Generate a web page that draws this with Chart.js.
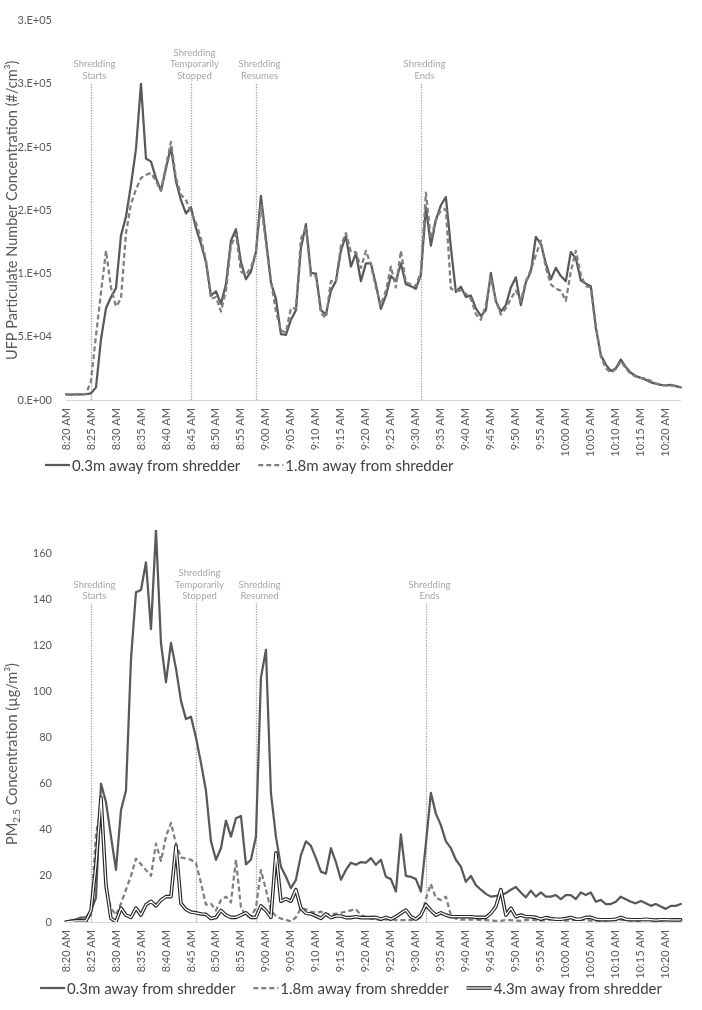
<!DOCTYPE html>
<html>
<head>
<meta charset="utf-8">
<script src="https://cdn.jsdelivr.net/npm/chart.js@4.4.1/dist/chart.umd.min.js"></script>
<style>
  html, body { margin: 0; padding: 0; background: #fff; }
  canvas { display: block; }
</style>
</head>
<body>
<canvas id="ufp" width="702" height="490"></canvas>
<canvas id="pm" width="702" height="520"></canvas>
<script>
// one reading per minute, 8:20 to 10:23
const minutes = [
  '8:20 AM','8:21 AM','8:22 AM','8:23 AM','8:24 AM','8:25 AM','8:26 AM','8:27 AM','8:28 AM','8:29 AM',
  '8:30 AM','8:31 AM','8:32 AM','8:33 AM','8:34 AM','8:35 AM','8:36 AM','8:37 AM','8:38 AM','8:39 AM',
  '8:40 AM','8:41 AM','8:42 AM','8:43 AM','8:44 AM','8:45 AM','8:46 AM','8:47 AM','8:48 AM','8:49 AM',
  '8:50 AM','8:51 AM','8:52 AM','8:53 AM','8:54 AM','8:55 AM','8:56 AM','8:57 AM','8:58 AM','8:59 AM',
  '9:00 AM','9:01 AM','9:02 AM','9:03 AM','9:04 AM','9:05 AM','9:06 AM','9:07 AM','9:08 AM','9:09 AM',
  '9:10 AM','9:11 AM','9:12 AM','9:13 AM','9:14 AM','9:15 AM','9:16 AM','9:17 AM','9:18 AM','9:19 AM',
  '9:20 AM','9:21 AM','9:22 AM','9:23 AM','9:24 AM','9:25 AM','9:26 AM','9:27 AM','9:28 AM','9:29 AM',
  '9:30 AM','9:31 AM','9:32 AM','9:33 AM','9:34 AM','9:35 AM','9:36 AM','9:37 AM','9:38 AM','9:39 AM',
  '9:40 AM','9:41 AM','9:42 AM','9:43 AM','9:44 AM','9:45 AM','9:46 AM','9:47 AM','9:48 AM','9:49 AM',
  '9:50 AM','9:51 AM','9:52 AM','9:53 AM','9:54 AM','9:55 AM','9:56 AM','9:57 AM','9:58 AM','9:59 AM',
  '10:00 AM','10:01 AM','10:02 AM','10:03 AM','10:04 AM','10:05 AM','10:06 AM','10:07 AM','10:08 AM','10:09 AM',
  '10:10 AM','10:11 AM','10:12 AM','10:13 AM','10:14 AM','10:15 AM','10:16 AM','10:17 AM','10:18 AM','10:19 AM',
  '10:20 AM','10:21 AM','10:22 AM','10:23 AM'
];

// UFP, #/cm3
const ufpNear = [
  4500, 4300, 4400, 4500, 4600, 5300, 10000, 48000, 72500, 81500,
  88500, 130000, 145000, 170000, 198500, 250000, 191000, 188500, 175500, 165500,
  183000, 200000, 173000, 158000, 147500, 152500, 136000, 123500, 109000, 82500,
  86000, 76000, 91500, 126000, 135000, 109000, 95500, 101500, 117000, 161500,
  127500, 93000, 80000, 52000, 51500, 63500, 71000, 120000, 139000, 100500,
  100000, 71000, 67500, 86500, 94000, 118000, 130000, 105500, 116000, 94000,
  108000, 108000, 91500, 72000, 82500, 98000, 94000, 108000, 91500, 90000,
  88000, 99000, 152500, 122000, 142500, 154000, 160500, 120500, 85500, 89500,
  81500, 82500, 72500, 66500, 71000, 100500, 78000, 70000, 75000, 89000,
  97000, 75000, 93000, 101500, 129000, 123500, 108000, 95500, 104500, 98000,
  94000, 117000, 112000, 94500, 92000, 90000, 57000, 35500, 28000, 23000,
  25000, 32000, 26000, 21500, 19000, 17500, 16000, 14000, 13000, 12000,
  11500, 12000, 11000, 10000
];
const ufpFar = [
  4500, 4300, 4400, 4500, 4600, 15000, 51000, 85000, 118000, 89000,
  74000, 80000, 132000, 155000, 166500, 175500, 178000, 179500, 173000, 165500,
  185500, 204000, 175500, 162500, 158000, 149000, 140000, 127500, 110500, 80000,
  81500, 70000, 86500, 122000, 131000, 101500, 99000, 104500, 117000, 155000,
  124500, 94000, 70000, 55000, 53500, 72500, 72500, 127500, 136000, 98000,
  98000, 68500, 65000, 94000, 94000, 122000, 132000, 117000, 117000, 104500,
  118000, 107000, 89000, 75000, 86500, 105500, 89000, 118000, 93000, 91500,
  90000, 101500, 164000, 127500, 142500, 150000, 151000, 88000, 86500, 86500,
  84000, 80000, 68000, 63500, 75000, 97000, 78500, 67500, 72500, 80000,
  86500, 78000, 94000, 103000, 114500, 126000, 104500, 91500, 88000, 86500,
  78500, 101500, 118000, 99000, 90000, 89000, 59500, 34500, 25000, 21500,
  24500, 30500, 25000, 20500, 18500, 17500, 17000, 15000, 13000, 12000,
  11500, 11500, 11000, 10000
];

// PM2.5, ug/m3
const pmNear = [
  0, 0.6, 1.2, 1.9, 2, 5, 10.5, 60, 52, 37,
  22.6, 48.5, 57, 114, 143, 144, 156, 127, 170, 121,
  104, 121, 110, 96, 88, 89, 80, 69, 57, 35,
  27, 32, 44, 37, 45, 46, 25, 27, 37, 106,
  118, 56, 37, 24, 19.6, 14.7, 18.3, 29, 35, 33,
  27.7, 21.8, 21, 32, 26, 18.3, 22.6, 25.7, 24.8, 26,
  25.7, 27.7, 24.8, 27, 19.6, 18.6, 13.2, 38, 20, 19.6,
  18.6, 13.2, 34, 56, 47, 42, 35, 32, 27, 24,
  17.4, 20, 16, 14, 12.2, 11, 11.3, 11.7, 12.5, 14,
  15.2, 12.8, 10.7, 13.6, 11, 12.8, 11, 11, 11.7, 9.9,
  11.7, 11.7, 9.9, 12.8, 11.7, 12.8, 8.8, 9.6, 7.8, 7.8,
  8.8, 11, 9.9, 8.8, 8.1, 9.1, 8.1, 7, 7.8, 6.7,
  5.7, 7, 7, 7.8
];
const pmFar = [
  0, 0.5, 0.7, 0.5, 0.8, 3, 38, 50, 14, 6,
  3, 8, 14, 20, 27.5, 25, 22.5, 20, 34, 26.5,
  37, 43, 34, 28, 27.5, 27, 25.5, 17, 7.5, 8,
  5, 9.5, 11, 8.5, 27, 6.5, 2.5, 2.5, 6, 22.5,
  14, 5, 2.5, 1.5, 1, 0.2, 2, 6, 5.5, 4.5,
  4, 4.5, 3, 3.5, 3.5, 4, 4.5, 5, 5.5, 3,
  2, 1.5, 1, 1, 1, 1.5, 0.8, 0.8, 0.8, 0.8,
  1, 2, 10, 16.5, 10.5, 9.5, 11, 3, 1.5, 1,
  1, 1, 1, 0.8, 0.8, 0.6, 0.5, 0.5, 0.8, 0.8,
  0.6, 0.5, 0.8, 1, 0.8, 0.6, 0.8, 1, 1.2, 0.8,
  0.6, 0.8, 1, 1.2, 0.8, 0.6, 0.5, 0.5, 0.6, 0.8,
  0.8, 1, 0.8, 0.6, 0.5, 0.6, 0.8, 0.8, 0.6, 0.5,
  0.8, 1, 1, 0.8
];
const pmMid = [
  0, 0.3, 0.5, 0.5, 0.5, 5, 25, 54, 16, 1.5,
  0.2, 6, 3, 2, 6, 3, 7.5, 9, 7, 9.5,
  11, 11, 33, 8, 5.5, 4.3, 4, 3.5, 3.3, 1.5,
  2, 5, 3, 2, 2, 3, 4, 2, 2, 7,
  5, 2, 30, 9, 10, 9, 14, 6, 3.8, 3.5,
  2.6, 1.6, 3.5, 1.9, 2.6, 2.6, 1.9, 1.9, 2.3, 1.9,
  1.9, 1.9, 2, 1.2, 2, 1.2, 2.3, 3.8, 5.2, 2.3,
  1.2, 3, 7.5, 5, 3, 4, 3, 2.3, 2.3, 2.3,
  2.3, 2.3, 2, 2, 2, 3.8, 6.7, 14, 3, 6,
  2.3, 3, 2.3, 2.3, 2, 1.2, 1.9, 1.5, 1.2, 1.2,
  1.5, 2, 1.2, 1.2, 2, 2, 1.2, 1, 1, 1,
  1.2, 2, 1.2, 1, 1, 1, 1.2, 1, 0.8, 1,
  1, 0.9, 0.9, 0.9
];

const ufpEvents = [
  { at: '8:25 AM', text: ['Shredding', 'Starts'] },
  { at: '8:45 AM', text: ['Shredding', 'Temporarily', 'Stopped'] },
  { at: '8:58 AM', text: ['Shredding', 'Resumes'] },
  { at: '9:31 AM', text: ['Shredding', 'Ends'] },
];
const pmEvents = [
  { at: '8:25 AM', text: ['Shredding', 'Starts'] },
  { at: '8:46 AM', text: ['Shredding', 'Temporarily', 'Stopped'] },
  { at: '8:58 AM', text: ['Shredding', 'Resumed'] },
  { at: '9:32 AM', text: ['Shredding', 'Ends'] },
];

const FONT = 'Lato, "Open Sans", sans-serif';
const AXIS_TEXT = '#595959';

// Excel style 0.E+00
function sciLabel(v) {
  const [m, e] = Number(v).toExponential(0).split('e');
  const n = Number(e);
  return m + '.E' + (n < 0 ? '-' : '+') + String(Math.abs(n)).padStart(2, '0');
}

// dotted marker lines with grey captions
function eventMarks(events, lineTop) {
  return {
    id: 'eventMarks',
    beforeDatasetsDraw(chart) {
      const { ctx, chartArea, scales: { x } } = chart;
      const labels = x.getLabels();
      ctx.save();
      events.forEach(ev => {
        const px = Math.round(x.getPixelForValue(labels.indexOf(ev.at))) + 0.5;
        const topY = chartArea.top + lineTop;
        ctx.strokeStyle = '#a6a6a6';
        ctx.lineWidth = 1.3;
        ctx.setLineDash([1.3, 1.3]);
        ctx.beginPath();
        ctx.moveTo(px, chartArea.bottom);
        ctx.lineTo(px, topY);
        ctx.stroke();
        ctx.setLineDash([]);
        ctx.fillStyle = '#a6a6a6';
        ctx.font = '9.5px ' + FONT;
        ctx.textAlign = 'center';
        ctx.textBaseline = 'alphabetic';
        const n = ev.text.length;
        ev.text.forEach((t, k) => {
          ctx.fillText(t, px + 3, topY - 4 - (n - 1 - k) * 11.5);
        });
      });
      ctx.restore();
    }
  };
}

// rotated y title, parts may be subscript
function sideTitle(parts, x, yCenter) {
  return {
    id: 'sideTitle',
    afterDraw(chart) {
      const ctx = chart.ctx;
      const size = 14.5;
      const big = size + 'px ' + FONT;
      const small = (size * 0.68) + 'px ' + FONT;
      const cy = yCenter != null ? yCenter : (chart.chartArea.top + chart.chartArea.bottom) / 2;
      ctx.save();
      ctx.translate(x, cy);
      ctx.rotate(-Math.PI / 2);
      ctx.fillStyle = AXIS_TEXT;
      ctx.textAlign = 'left';
      ctx.textBaseline = 'middle';
      const widths = parts.map(p => { ctx.font = p.sub ? small : big; return ctx.measureText(p.text).width; });
      let u = -widths.reduce((a, b) => a + b, 0) / 2;
      parts.forEach((p, i) => {
        ctx.font = p.sub ? small : big;
        ctx.fillText(p.text, u, p.sub ? size * 0.3 : 0);
        u += widths[i];
      });
      ctx.restore();
    }
  };
}

// legend with line samples, drawn under the x labels
function lineLegend(startX, fromBottom) {
  return {
    id: 'lineLegend',
    afterDraw(chart) {
      const ctx = chart.ctx;
      const items = chart.data.datasets.filter(d => d.label);
      const sample = 25, gap = 2, spacing = 18;
      ctx.save();
      ctx.font = '15px ' + FONT;
      const widths = items.map(d => sample + gap + ctx.measureText(d.label).width);
      const total = widths.reduce((a, b) => a + b, 0) + spacing * (items.length - 1);
      let x = startX != null ? startX : (chart.width - total) / 2;
      const y = chart.height - fromBottom;
      items.forEach((d, i) => {
        ctx.setLineDash(d.borderDash || []);
        ctx.lineWidth = d.borderWidth;
        ctx.strokeStyle = d.borderColor;
        ctx.beginPath();
        ctx.moveTo(x, y);
        ctx.lineTo(x + sample, y);
        ctx.stroke();
        if (d.innerColor) {
          ctx.setLineDash([]);
          ctx.lineWidth = d.innerWidth;
          ctx.strokeStyle = d.innerColor;
          ctx.beginPath();
          ctx.moveTo(x, y);
          ctx.lineTo(x + sample, y);
          ctx.stroke();
        }
        ctx.fillStyle = '#404040';
        ctx.textAlign = 'left';
        ctx.textBaseline = 'middle';
        ctx.fillText(d.label, x + sample + gap, y + 1);
        x += widths[i] + spacing;
      });
      ctx.restore();
    }
  };
}

function timeAxis() {
  return {
    type: 'category',
    offset: false,
    grid: { display: false, drawTicks: false },
    border: { display: true, color: '#d9d9d9', width: 1 },
    ticks: {
      autoSkip: false,
      minRotation: 90,
      maxRotation: 90,
      padding: 8,
      color: AXIS_TEXT,
      font: { family: FONT, size: 11 },
      callback: function (v, i) { return i % 5 === 0 ? this.getLabelForValue(v) : ''; }
    },
    afterFit(s) { s.height = 60; }
  };
}

const baseOptions = {
  responsive: false,
  animation: false,
  elements: {
    point: { radius: 0 },
    line: { tension: 0, borderJoinStyle: 'round', borderCapStyle: 'round' }
  },
  plugins: { legend: { display: false }, tooltip: { enabled: false } }
};

new Chart(document.getElementById('ufp'), {
  type: 'line',
  data: {
    labels: minutes,
    datasets: [
      { label: '0.3m away from shredder', data: ufpNear, borderColor: '#595959', borderWidth: 2.25, order: 1 },
      { label: '1.8m away from shredder', data: ufpFar, borderColor: '#7f7f7f', borderWidth: 2.25, borderDash: [5, 3], borderCapStyle: 'butt', order: 0 },
    ]
  },
  options: {
    ...baseOptions,
    layout: { padding: { top: 7, right: 7, bottom: 30, left: 0 } },
    scales: {
      x: timeAxis(),
      y: {
        min: 0,
        max: 300000,
        grid: { display: false, drawTicks: false },
        border: { display: false },
        ticks: { stepSize: 50000, padding: 14, color: AXIS_TEXT, font: { family: FONT, size: 11 }, callback: v => sciLabel(v) },
        afterFit(s) { s.width = 66; }
      }
    }
  },
  plugins: [
    eventMarks(ufpEvents, 62),
    sideTitle([{ text: 'UFP Particulate Number Concentration (#/cm³)' }], 12, null),
    lineLegend(45, 25)
  ]
});

new Chart(document.getElementById('pm'), {
  type: 'line',
  data: {
    labels: minutes,
    datasets: [
      { label: '0.3m away from shredder', data: pmNear, borderColor: '#595959', borderWidth: 2.25, order: 3 },
      { label: '1.8m away from shredder', data: pmFar, borderColor: '#7f7f7f', borderWidth: 2.25, borderDash: [5, 3], borderCapStyle: 'butt', order: 2 },
      { label: '4.3m away from shredder', data: pmMid, borderColor: '#262626', borderWidth: 3.6, innerColor: '#ffffff', innerWidth: 1.3, order: 1 },
      { label: '', data: pmMid, borderColor: '#ffffff', borderWidth: 1.3, order: 0 },
    ]
  },
  options: {
    ...baseOptions,
    layout: { padding: { top: 40, right: 14, bottom: 28, left: 0 } },
    scales: {
      x: timeAxis(),
      y: {
        min: 0,
        max: 170,
        grid: { display: false, drawTicks: false },
        border: { display: false },
        ticks: { stepSize: 20, padding: 14, color: AXIS_TEXT, font: { family: FONT, size: 11 }, callback: v => (v % 20 ? '' : v) },
        afterFit(s) { s.width = 66; }
      }
    }
  },
  plugins: [
    eventMarks(pmEvents, 73),
    sideTitle([{ text: 'PM' }, { text: '2.5', sub: true }, { text: ' Concentration (µg/m³)' }], 12, 264),
    lineLegend(null, 22)
  ]
});
</script>
</body>
</html>
